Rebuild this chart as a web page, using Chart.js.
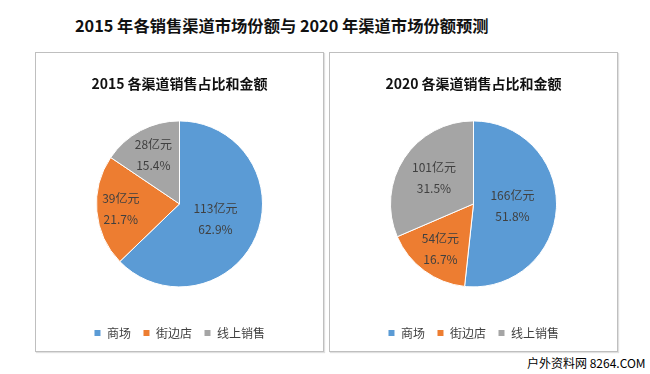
<!DOCTYPE html>
<html>
<head>
<meta charset="utf-8">
<script src="https://cdn.jsdelivr.net/npm/chart.js@4"></script>
<style>
  html, body { margin: 0; padding: 0; background: #fff; }
  body { width: 650px; height: 374px; position: relative; overflow: hidden; font-family: "Noto Sans CJK SC", sans-serif; }
  #mainTitle { position: absolute; left: 75px; top: 13px; font-size: 16.3px; font-weight: bold; color: #111; white-space: nowrap; line-height: 24px; }
  .panel { position: absolute; top: 52px; width: 287px; height: 298px; border: 1px solid #bfbfbf; box-shadow: 1px 1px 1px #e0e0e0; }
  #p1 { left: 35px; }
  #p2 { left: 329px; }
  .panel canvas { display: block; }
  #mark { position: absolute; left: 527px; top: 354px; font-size: 12px; color: #000; white-space: nowrap; }
</style>
</head>
<body>
<div id="mainTitle">2015 年各销售渠道市场份额与 2020 年渠道市场份额预测</div>
<div class="panel" id="p1"><canvas id="chart2015" width="287" height="298"></canvas></div>
<div class="panel" id="p2"><canvas id="chart2020" width="287" height="298"></canvas></div>
<div id="mark">户外资料网 8264.COM</div>
<script>
const channels = ['商场', '街边店', '线上销售'];
const sales2015 = [113, 39, 28];
const share2015 = [62.9, 21.7, 15.4];
const sales2020 = [166, 54, 101];
const share2020 = [51.8, 16.7, 31.5];
const colors = ['#5B9BD5', '#ED7D31', '#A5A5A5'];

const family = "'Noto Sans CJK SC', sans-serif";

// amount + percent inside each slice
const sliceLabels = {
    id: 'sliceLabels',
    afterDatasetsDraw(chart, args, opts) {
        const ctx = chart.ctx;
        const meta = chart.getDatasetMeta(0);
        const values = chart.data.datasets[0].data;
        ctx.save();
        ctx.font = '12px ' + family;
        ctx.fillStyle = '#404040';
        ctx.textAlign = 'center';
        ctx.textBaseline = 'middle';
        meta.data.forEach((arc, i) => {
            const p = arc.getProps(['x', 'y', 'startAngle', 'endAngle', 'outerRadius'], true);
            const mid = (p.startAngle + p.endAngle) / 2;
            const r = p.outerRadius * opts.dist[i];
            const x = p.x + Math.cos(mid) * r;
            const y = p.y + Math.sin(mid) * r;
            ctx.fillText(values[i] + '亿元', x, y - 10.5);
            ctx.fillText(opts.share[i].toFixed(1) + '%', x, y + 10.5);
        });
        ctx.restore();
    }
};

function makePie(id, title, values, shares, dist) {
    const ctx = document.getElementById(id).getContext('2d');
    return new Chart(ctx, {
        type: 'pie',
        data: {
            labels: channels,
            datasets: [{
                data: values,
                backgroundColor: colors,
                borderColor: '#ffffff',
                borderWidth: 1,
                radius: 83
            }]
        },
        options: {
            responsive: false,
            animation: false,
            layout: { padding: { bottom: 2 } },
            plugins: {
                title: {
                    display: true,
                    text: title,
                    color: '#111111',
                    font: { size: 14, weight: 'bold', family },
                    padding: { top: 22, bottom: 1 }
                },
                legend: {
                    position: 'bottom',
                    labels: {
                        boxWidth: 7,
                        boxHeight: 7,
                        padding: 12,
                        color: '#404040',
                        font: { size: 12, family }
                    }
                },
                tooltip: { enabled: false },
                sliceLabels: { share: shares, dist }
            }
        },
        plugins: [sliceLabels]
    });
}

makePie('chart2015', '2015 各渠道销售占比和金额', sales2015, share2015, [0.47, 0.71, 0.67]);
makePie('chart2020', '2020 各渠道销售占比和金额', sales2020, share2020, [0.47, 0.67, 0.57]);
</script>
</body>
</html>
